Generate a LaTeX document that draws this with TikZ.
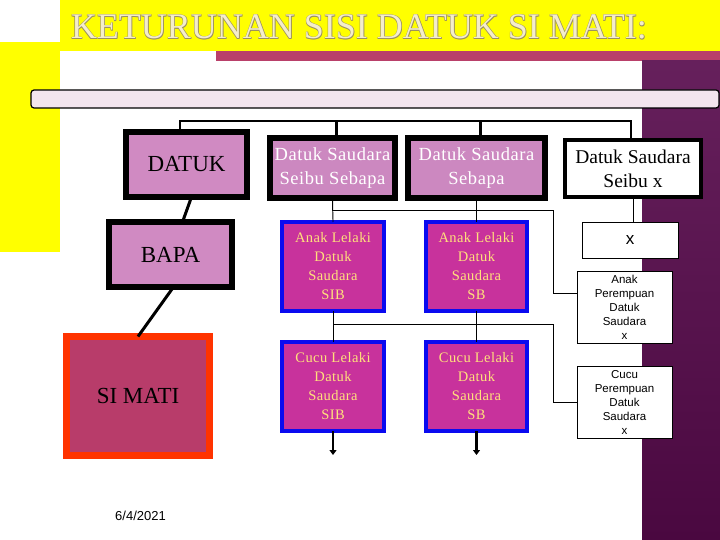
\documentclass[tikz,border=0pt]{standalone}
\usepackage{fontspec}
\setmainfont{Liberation Serif}
\setsansfont{Liberation Sans}
\newfontfamily\widerm[LetterSpace=3.0]{Liberation Serif}
\usetikzlibrary{arrows.meta}

\definecolor{slideyellow}{HTML}{FFFF00}
\definecolor{barrose}{HTML}{B9406A}
\definecolor{barpale}{HTML}{F3E5EE}
\definecolor{orchid}{HTML}{D08AC2}
\definecolor{orchidb}{HTML}{CC88C0}
\definecolor{deadfill}{HTML}{B83C6A}
\definecolor{deadedge}{HTML}{FF3300}
\definecolor{kinfill}{HTML}{C8329C}
\definecolor{kinedge}{HTML}{0A0AF0}
\definecolor{kintext}{HTML}{FFE07C}
\definecolor{titlecream}{HTML}{F4EDCB}
\definecolor{titleshade}{HTML}{9A8E62}
\definecolor{plumtop}{HTML}{66205C}
\definecolor{plummid}{HTML}{B24EAC}
\definecolor{plumbot}{HTML}{4A0840}

\begin{document}
\begin{tikzpicture}[x=1pt, y=-1pt,
  anc/.style={draw=black, line width=6pt, fill=orchid, font=\fontsize{23}{26}\selectfont, minimum height=65pt, inner sep=0pt, outer sep=0pt},
  sdr/.style={draw=black, line width=6pt, fill=orchidb, text=white, align=center, font=\widerm\fontsize{18.5}{24}\selectfont, minimum height=60pt, inner sep=0pt, outer sep=0pt},
  kin/.style={draw=kinedge, line width=4pt, fill=kinfill, text=kintext, align=center, font=\widerm\fontsize{14.5}{19}\selectfont, minimum width=102pt, minimum height=89pt, inner sep=0pt, outer sep=0pt},
  plain/.style={draw=black, line width=0.8pt, fill=white, align=center, font=\sffamily\fontsize{11.5}{14}\selectfont, minimum width=95pt, minimum height=72pt, inner sep=0pt, outer sep=0pt},
  heading/.style={font=\fontsize{36}{36}\selectfont, anchor=base},
  link/.style={line width=0.9pt},
  trunk/.style={line width=2.5pt},
  arr/.style={-{Triangle[length=5pt,width=7pt]}, line width=2.8pt}]
  \useasboundingbox (0,0) rectangle (720,540);
  % slide background
  \fill[white] (0,0) rectangle (720,540);
  \fill[slideyellow] (60,0) rectangle (720,51);
  \fill[slideyellow] (0,42) rectangle (60,252);
  \fill[barrose] (216,51) rectangle (720,61);
  \shade[top color=plumtop, middle color=plummid, bottom color=plumbot] (642,61) rectangle (720,540);
  \draw[fill=barpale, line width=1.2pt, rounded corners=3pt] (31,90) rectangle (719,108);
  % title, outlined
  \foreach \dx/\dy in {0.6/0.6, -0.4/0.6, 0.6/-0.4, -0.4/-0.4}
    \node[heading, text=titleshade] at (359+\dx,39+\dy) {KETURUNAN SISI DATUK SI MATI:};
  \node[heading, text=titlecream] (title) at (359,39) {KETURUNAN SISI DATUK SI MATI:};

  % line of descent
  \node[anc, minimum width=121pt] (datuk) at (186.5,164.5) {DATUK};
  \node[anc, minimum width=123pt] (bapa) at (170.5,254.5) {BAPA};
  \node[anc, draw=deadedge, line width=7pt, fill=deadfill, minimum width=143pt, minimum height=119pt] (simati) at (138,396) {SI MATI};

  % datuk saudara
  \node[sdr, minimum width=125pt] (dssb) at (332.5,168) {Datuk Saudara\\Seibu Sebapa};
  \node[sdr, minimum width=137pt] (dsb) at (476.5,168) {Datuk Saudara\\Sebapa};
  \node[sdr, fill=white, text=black, line width=4pt, minimum width=136pt, minimum height=57pt, font=\fontsize{19.5}{24}\selectfont] (dsx) at (633,168.5) {Datuk Saudara\\Seibu x};

  % anak and cucu
  \node[kin] (anaksib) at (333,266.5) {Anak Lelaki\\Datuk\\Saudara\\SIB};
  \node[kin, minimum width=101pt] (anaksb) at (476.5,266.5) {Anak Lelaki\\Datuk\\Saudara\\SB};
  \node[kin] (cucusib) at (333,386.5) {Cucu Lelaki\\Datuk\\Saudara\\SIB};
  \node[kin, minimum width=101pt] (cucusb) at (476.5,386.5) {Cucu Lelaki\\Datuk\\Saudara\\SB};
  \node[plain, minimum width=96pt, minimum height=36pt, font=\sffamily\fontsize{17}{20}\selectfont] (xbox) at (630,240) {x};
  \node[plain] (anakp) at (624.5,307) {Anak\\Perempuan\\Datuk\\Saudara\\x};
  \node[plain] (cucup) at (624.5,402) {Cucu\\Perempuan\\Datuk\\Saudara\\x};

  \node[font=\sffamily\fontsize{13}{13}\selectfont, anchor=base] (date) at (140.5,520) {6/4/2021};

  % connectors
  \coordinate (busL) at (180,121);
  \coordinate (busR) at (631,121);
  \coordinate (j1) at (553,210);
  \coordinate (j2) at (553,324);
  \draw[trunk] (busL |- datuk.north) -- (busL) -- (busR) -- (busR |- dsx.north);
  \draw[trunk] ([xshift=4pt]dssb.north |- busL) -- ([xshift=4pt]dssb.north);
  \draw[trunk] ([xshift=4pt]dsb.north |- busL) -- ([xshift=4pt]dsb.north);
  \draw[trunk, line width=3pt] ([xshift=5pt]datuk.south) -- ([xshift=12pt]bapa.north);
  \draw[trunk, line width=3pt] ([xshift=3pt]bapa.south) -- (simati.north);
  \draw[link] (dsx.south) -- (dsx.south |- xbox.north);
  \draw[link] (dssb.south) |- (j1) |- ([yshift=14pt]anakp.west);
  \draw[link] (dsb.south) -- (anaksb.north);
  \draw[link] (dssb.south) -- (anaksib.north);
  \draw[link] (anaksib.south) |- (j2) |- (cucup.west);
  \draw[link] (anaksb.south) -- (cucusb.north);
  \draw[link] (anaksib.south) -- (cucusib.north);
  \draw[arr] (cucusib.south) -- ([yshift=-24pt]cucusib.south);
  \draw[arr] (cucusb.south) -- ([yshift=-24pt]cucusb.south);
\end{tikzpicture}
\end{document}
